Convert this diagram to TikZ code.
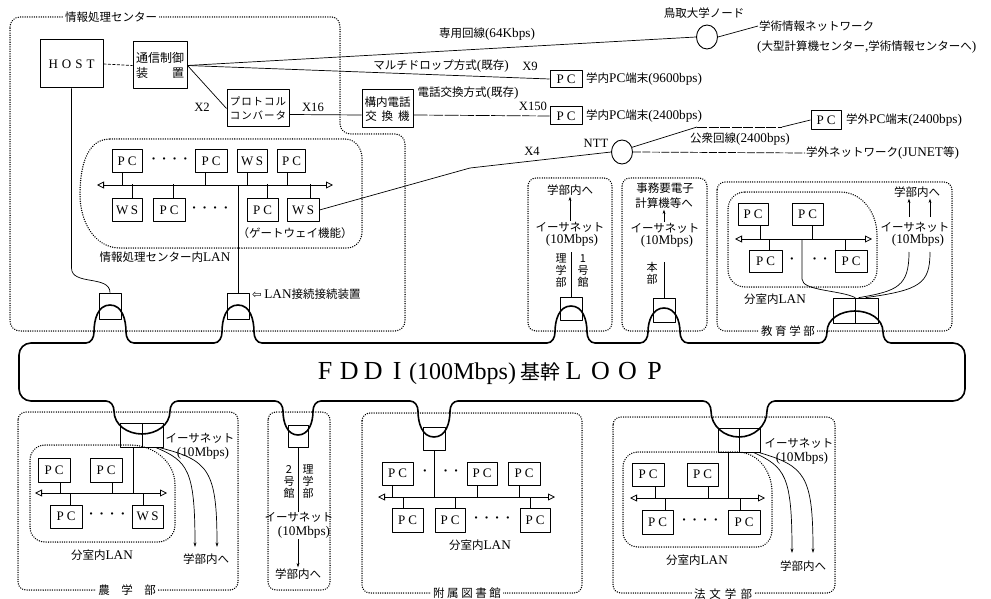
\documentclass[tikz,border=0pt]{standalone}
\usepackage{fontspec}
\setmainfont{Noto Sans CJK JP}
\newfontfamily\jp{Noto Sans CJK JP}
\newfontfamily\rmlat[Scale=1.15]{Liberation Serif}
\newfontfamily\dvs{DejaVu Sans}
\usetikzlibrary{arrows.meta,shapes.geometric}
\newcommand\PC{P\hspace{3pt}C}
\newcommand\WS{W\hspace{2.5pt}S}
\newcommand\DotsF{{\rmlat\bfseries ·\hspace{6pt}·\hspace{6pt}·\hspace{6pt}·}}
\begin{document}
\begin{tikzpicture}[x=1pt,y=-1pt,line join=round,
  every node/.style={inner sep=1pt},
  lbl/.style={font=\fontsize{11.5}{13}\selectfont},
  xlbl/.style={font=\rmlat\fontsize{11}{12}\selectfont},
  vlbl/.style={font=\fontsize{11}{12}\selectfont, align=center, inner sep=0pt},
  pcbox/.style={draw, line width=1pt, fill=white, inner sep=0pt, minimum width=31pt, minimum height=23pt, font=\rmlat\fontsize{11.3}{12}\selectfont},
  devbox/.style={draw, line width=0.7pt, inner sep=0pt},
  dotbox/.style={line width=1.5pt, dash pattern=on 0.01pt off 2.3pt, line cap=round},
  wire/.style={line width=0.7pt},
  loopline/.style={line width=1.6pt},
  bus/.style={line width=0.8pt, {Triangle[open,length=7pt,width=7pt]}-{Triangle[open,length=7pt,width=7pt]}},
  eth/.style={line width=0.7pt, -{Stealth[length=4.5pt,width=2.8pt]}},
  boxlbl/.style={fill=white, inner sep=2pt, font=\fontsize{11.5}{13}\selectfont},
  dotsn/.style={inner sep=0pt, font=\fontsize{12}{12}\selectfont},
]
\useasboundingbox (0,0) rectangle (991,599);

% ================= FDDI loop =================
\draw[loopline]
  (19,355) to[out=90,in=180] (31,343)
  -- (86,343) to[out=0,in=-90] (94,332) to[out=90,in=180] (110,305) to[out=0,in=90] (126,332) to[out=-90,in=180] (134,343)
  -- (214,343) to[out=0,in=-90] (222,332) to[out=90,in=180] (238,305) to[out=0,in=90] (254,332) to[out=-90,in=180] (262,343)
  -- (547,343) to[out=0,in=-90] (555,332) to[out=90,in=180] (571,306) to[out=0,in=90] (587,332) to[out=-90,in=180] (595,343)
  -- (640,343) to[out=0,in=-90] (648,332) to[out=90,in=180] (664,308) to[out=0,in=90] (680,332) to[out=-90,in=180] (688,343)
  -- (819,343) to[out=0,in=-90] (827,332) to[out=90,in=180] (855,311) to[out=0,in=90] (883,332) to[out=-90,in=180] (891,343)
  -- (953,343) to[out=0,in=90] (965,355) -- (965,389) to[out=-90,in=0] (953,401)
  -- (775,401) to[out=180,in=90] (767,411) to[out=-90,in=0] (739,437) to[out=180,in=-90] (711,411) to[out=90,in=0] (703,401)
  -- (458,401) to[out=180,in=90] (450,411) to[out=-90,in=0] (434,437) to[out=180,in=-90] (418,411) to[out=90,in=0] (410,401)
  -- (321,401) to[out=180,in=90] (313,411) to[out=-90,in=0] (298,435) to[out=180,in=-90] (283,411) to[out=90,in=0] (275,401)
  -- (178,401) to[out=180,in=90] (170,411) to[out=-90,in=0] (142,434) to[out=180,in=-90] (114,411) to[out=90,in=0] (106,401)
  -- (31,401) to[out=180,in=-90] (19,389) -- cycle;
\node[anchor=west, inner sep=0pt, font=\rmlat\fontsize{22.6}{24}\selectfont] (fddi) at (313,373)
  {\makebox[24pt]{F}\makebox[24pt]{D}\makebox[24pt]{D}\makebox[24pt]{I}{\fontsize{20.9}{22}\selectfont(100Mbps)}\kern4pt{\jp\fontsize{20}{20}\selectfont 基幹}\makebox[27pt]{L}\makebox[27pt]{O}\makebox[27pt]{O}\makebox[27pt]{P}};

% ================= 情報処理センター =================
\draw[dotbox] (10,27) to[out=90,in=180] (20,17) -- (332,17) to[out=0,in=90] (340,27) -- (340,124) to[out=-90,in=180] (351,134) -- (395,134) to[out=0,in=90] (405,144) -- (405,321) to[out=-90,in=0] (395,331) -- (20,331) to[out=180,in=-90] (10,321) -- cycle;
\node[boxlbl] (centerlbl) at (111,17) {情報処理センター};

\node[draw, line width=1pt, fill=white, minimum width=63pt, minimum height=48pt, inner sep=0pt, font=\rmlat\fontsize{11.3}{12}\selectfont] (host) at (71.5,64) {H\hspace{4pt}O\hspace{4pt}S\hspace{4pt}T};
\node[draw, line width=1pt, fill=white, minimum width=54pt, minimum height=47pt, align=center, inner sep=0pt, font=\fontsize{12}{15}\selectfont] (tsushin) at (160,65.5) {通信制御\\装\hspace{2em}置};
\node[draw, line width=1pt, fill=white, minimum width=62pt, minimum height=37pt, align=center, inner sep=0pt, font=\fontsize{10.5}{14}\selectfont] (proto) at (258,108.5) {プ\kern1pt ロ\kern1pt ト\kern1pt コ\kern1pt ル\\コ\kern1pt ン\kern1pt バ\kern1pt ー\kern1pt タ};
\node[draw, line width=1pt, fill=white, minimum width=51pt, minimum height=38pt, align=center, inner sep=0pt, font=\fontsize{11.5}{14.5}\selectfont] (kounai) at (387.5,109) {構内電話\\交\kern5pt 換\kern5pt 機};

\node[pcbox, minimum width=32pt, minimum height=17pt] (pcA) at (566,79) {\PC};
\node[pcbox, minimum width=32pt, minimum height=18pt] (pcB) at (566,116) {\PC};
\node[pcbox, minimum width=30pt, minimum height=19pt] (pcG) at (826,120) {\PC};
\node[draw, ellipse, line width=0.9pt, minimum width=21pt, minimum height=24pt, inner sep=0pt] (tottori) at (707,37) {};
\node[draw, ellipse, line width=0.9pt, minimum width=21pt, minimum height=24pt, inner sep=0pt] (ntt) at (622,152) {};

\draw[wire, dash pattern=on 3pt off 1.5pt] (host.east) -- (tsushin.west);
\draw[wire] (tsushin.east) -- (tottori.west);
\draw[wire] (tsushin.east) -- (pcA.west);
\draw[wire] (tsushin.east) -- (proto.west);
\draw[wire] ([yshift=-6pt]proto.east) -- ([yshift=-6pt]kounai.west);
\draw[wire, dash pattern=on 14pt off 1.5pt] ([yshift=-6pt]kounai.east) -- (pcB.west);

\node[lbl] (tottorilbl) at (704,13) {鳥取大学ノード};
\node[lbl, anchor=west] (gakujutsu) at (758,26) {学術情報ネットワーク};
\node[lbl, anchor=west] (oogata) at (756,47) {{\rmlat(}大型計算機センター{\rmlat,}学術情報センターへ{\rmlat)}};
\draw[wire] (tottori.east) -- (gakujutsu.west);

\node[lbl] (l64) at (487,34) {専用回線{\rmlat(64Kbps)}};
\node[lbl] (lmulti) at (441,66) {マルチドロップ方式{\rmlat(}既存{\rmlat)}};
\node[xlbl] (lx9) at (530,66) {X9};
\node[lbl] (ltel) at (468,93) {電話交換方式{\rmlat(}既存{\rmlat)}};
\node[xlbl] (lx150) at (533,106) {X150};
\node[xlbl] (lx2) at (202,107) {X2};
\node[xlbl] (lx16) at (313,107) {X16};
\node[lbl, anchor=west] (lpcA) at (585,79) {学内{\rmlat PC}端末{\rmlat(9600bps)}};
\node[lbl, anchor=west] (lpcB) at (585,116) {学内{\rmlat PC}端末{\rmlat(2400bps)}};
\node[lbl, anchor=west] (lpcG) at (845,120) {学外{\rmlat PC}端末{\rmlat(2400bps)}};

\node[xlbl] (nttlbl) at (596,143) {NTT};
\node[xlbl] (lx4) at (532,151) {X4};
\node[lbl] (lkoushu) at (740,139) {公衆回線{\rmlat(2400bps)}};
\node[lbl, anchor=west] (lgaibu) at (805,153) {学外ネットワーク{\rmlat(JUNET}等{\rmlat)}};
\coordinate (k1) at (697,127);
\coordinate (k2) at (782,127);
\draw[wire] (ntt.25) -- (k1);
\draw[wire, dash pattern=on 10pt off 1.5pt] (k1) -- (k2);
\draw[wire] (k2) -- (pcG.west);
\draw[wire, dash pattern=on 8pt off 1.5pt] (ntt.east) -- (lgaibu.west);

% ---- LAN in center ----
\draw[dotbox] (110,139) -- (345,139) to[out=0,in=90] (362,158) -- (362,232) to[out=-90,in=0] (347,248) -- (120,248) to[out=180,in=-90] (80,195) to[out=90,in=180] (110,139) -- cycle;
\node[pcbox, minimum width=30pt] (tA) at (127,161.5) {\PC};
\node[pcbox, minimum width=32pt] (tB) at (211,161.5) {\PC};
\node[pcbox, minimum width=30pt] (tC) at (252,161.5) {\WS};
\node[pcbox, minimum width=28pt] (tD) at (291.5,161.5) {\PC};
\node[pcbox, minimum width=30pt] (tE) at (127,210) {\WS};
\node[pcbox, minimum width=32pt] (tF) at (169,210) {\PC};
\node[pcbox, minimum width=31pt] (tG) at (262.5,210) {\PC};
\node[pcbox, minimum width=32pt] (tH) at (303,210) {\WS};
\node[dotsn] (tdots1) at (169.5,161) {\DotsF};
\node[dotsn] (tdots2) at (210,210) {\DotsF};
\coordinate (tbusL) at (97,185);
\coordinate (tbusR) at (333,185);
\draw[bus] (tbusL) -- (tbusR);
\draw[wire] ([xshift=-5pt]tA.south) -- ++(0,12);
\draw[wire] ([xshift=-6pt]tB.south) -- ++(0,12);
\draw[wire] ([xshift=-5pt]tC.south) -- ++(0,12);
\draw[wire] ([xshift=-4pt]tD.south) -- ++(0,12);
\draw[wire] ([xshift=5pt]tE.north) -- ++(0,-13.5);
\draw[wire] ([xshift=4pt]tF.north) -- ++(0,-13.5);
\draw[wire] ([xshift=5pt]tG.north) -- ++(0,-13.5);
\draw[wire] ([xshift=7pt]tH.north) -- ++(0,-13.5);
\node[lbl] (gwlbl) at (295,233) {（ゲートウェイ機能）};
\node[lbl] (lanlbl) at (165,257) {情報処理センター内{\rmlat LAN}};
\node[lbl, anchor=west] (lanconn) at (251,294) {{\dvs ⇦} {\rmlat LAN}接続接続装置};

\coordinate (x4a) at (470,168);
\draw[wire] (tH.east) -- (x4a) -- (ntt.west);

\node[devbox, minimum width=22pt, minimum height=26pt] (devH) at (110,306) {};
\node[devbox, minimum width=22pt, minimum height=26pt] (devL) at (238,306) {};
\coordinate (hk) at (71.5,268);
\draw[wire] (host.south) -- (hk) to[out=-90,in=90] (devH.north);
\draw[wire] (devL.north) -- (devL.north |- tbusL);

% ================= 理学部1号館 =================
\draw[dotbox, rounded corners=8pt] (528,178) rectangle (612,331);
\node[lbl] (r1a) at (570,190) {学部内へ};
\node[lbl] (r1eth) at (570,227) {イーサネット};
\node[lbl] (r1mb) at (572,240) {{\rmlat(10Mbps)}};
\draw[eth] (r1eth.north) -- (r1a.south);
\node[vlbl] (r1v1) at (561,271) {理\\学\\部};
\node[vlbl] (r1v2) at (583,271) {1\\号\\館};
\node[devbox, minimum width=22pt, minimum height=23pt] (devR1) at (571,308.5) {};
\draw[wire] (devR1.north) -- ++(0,-45);

% ================= 本部 =================
\draw[dotbox, rounded corners=8pt] (622,178) rectangle (707,331);
\node[lbl] (hb1) at (665,188) {事務要電子};
\node[lbl] (hb2) at (664,203) {計算機等へ};
\node[lbl] (hbeth) at (665,228) {イーサネット};
\node[lbl] (hbmb) at (667,241) {{\rmlat(10Mbps)}};
\node[vlbl] (hbv) at (652,273) {本\\部};
\node[devbox, minimum width=22pt, minimum height=24pt] (devHB) at (664,310) {};
\draw[eth] (devHB.north |- hbeth.north) -- (devHB.north |- hb2.south);
\draw[wire] (devHB.north) -- ++(0,-36);

% ================= 教育学部 =================
\draw[dotbox, rounded corners=8pt] (717,182) rectangle (952,331);
\node[boxlbl] (kyoikulbl) at (788,331) {教 育 学 部};
\draw[dotbox] (745,192) -- (840,192) to[out=0,in=90] (877,235) -- (877,270) to[out=-90,in=0] (860,287) -- (745,287) to[out=180,in=-90] (728,270) -- (728,209) to[out=90,in=180] (745,192) -- cycle;
\node[pcbox, minimum width=30pt, minimum height=22pt] (eA) at (753,214) {\PC};
\node[pcbox, minimum width=31pt, minimum height=22pt] (eB) at (807.5,214) {\PC};
\node[pcbox, minimum width=33pt, minimum height=22pt] (eC) at (765.5,261) {\PC};
\node[pcbox, minimum width=32pt, minimum height=22pt] (eD) at (851,261) {\PC};
\node[dotsn] (edot1) at (792,261) {{\rmlat\bfseries ·}};
\node[dotsn] (edot2) at (820,261) {{\rmlat\bfseries ·\hspace{6pt}·}};
\coordinate (ebL) at (735,239);
\coordinate (ebR) at (872,239);
\draw[bus] (ebL) -- (ebR);
\draw[wire] ([xshift=7pt]eA.south) -- ++(0,14);
\draw[wire] ([xshift=5pt]eB.south) -- ++(0,14);
\draw[wire] ([xshift=4pt]eC.north) -- ++(0,-11);
\draw[wire] ([xshift=-6pt]eD.north) -- ++(0,-11);
\node[devbox, minimum width=22pt, minimum height=25pt] (devEa) at (844,310.5) {};
\node[devbox, minimum width=23pt, minimum height=25pt] (devEb) at (866.5,310.5) {};
\coordinate (ev) at (802,239);
\draw[wire] (ev) -- ++(0,40) .. controls (802,291) and (840,290) .. (devEa.north east);
\coordinate (ee1) at (909,252);
\coordinate (ee2) at (930,252);
\draw[wire] ([xshift=4pt]devEb.north west) .. controls (898,291) and (909,286) .. (ee1);
\draw[wire] ([xshift=11pt]devEb.north west) .. controls (920,290) and (930,284) .. (ee2);
\node[lbl] (kyA) at (917,192) {学部内へ};
\node[lbl] (kyeth) at (915,227) {イーサネット};
\node[lbl] (kymb) at (918,240) {{\rmlat(10Mbps)}};
\coordinate (ea1) at (909,217);
\coordinate (ea2) at (930,217);
\draw[eth] (ea1) -- (ea1 |- kyA.south);
\draw[eth] (ea2) -- (ea2 |- kyA.south);
\node[lbl] (kylan) at (775,299) {分室内{\rmlat LAN}};

% ================= 農学部 =================
\draw[dotbox, rounded corners=8pt] (18,412) rectangle (238,590);
\node[boxlbl] (noulbl) at (127,590) {農　学　部};
\draw[dotbox] (45,445) -- (130,445) to[out=0,in=90] (175,485) -- (175,525) to[out=-90,in=0] (158,542) -- (45,542) to[out=180,in=-90] (30,527) -- (30,460) to[out=90,in=180] (45,445) -- cycle;
\node[devbox, minimum width=22pt, minimum height=24pt] (devNa) at (131,435) {};
\node[devbox, minimum width=21pt, minimum height=24pt] (devNb) at (152.5,435) {};
\node[pcbox, minimum width=32pt, minimum height=24pt] (nA) at (54,470) {\PC};
\node[pcbox, minimum width=32pt, minimum height=24pt] (nB) at (106,470) {\PC};
\node[pcbox, minimum width=32pt, minimum height=23pt] (nC) at (66,516.5) {\PC};
\node[pcbox, minimum width=31pt, minimum height=23pt] (nD) at (147.5,516.5) {\WS};
\node[dotsn] (ndots) at (107,516) {\DotsF};
\coordinate (nbL) at (35,493);
\coordinate (nbR) at (167,493);
\draw[bus] (nbL) -- (nbR);
\draw[wire] ([xshift=6pt]nA.south) -- ++(0,11);
\draw[wire] ([xshift=6pt]nB.south) -- ++(0,11);
\draw[wire] ([xshift=4pt]nC.north) -- ++(0,-12);
\draw[wire] ([xshift=-4.5pt]nD.north) -- ++(0,-12);
\draw[wire] ([xshift=2pt]devNa.south) -- ++(0,46);
\coordinate (ne1) at (195,547);
\coordinate (ne2) at (217,547);
\draw[eth] ([xshift=-8pt]devNb.south east) .. controls (188,461) and (195,470) .. (ne1);
\draw[eth] ([xshift=-5pt]devNb.south east) .. controls (209,460) and (217,470) .. (ne2);
\node[lbl] (neth) at (200,438) {イーサネット};
\node[lbl] (nmb) at (203,453) {{\rmlat(10Mbps)}};
\node[lbl] (nlan) at (102,555) {分室内{\rmlat LAN}};
\node[lbl] (nto) at (206,559) {学部内へ};

% ================= 理学部2号館 =================
\draw[dotbox, rounded corners=8pt] (268,412) rectangle (330,590);
\node[devbox, minimum width=20pt, minimum height=22pt] (devR2) at (298,436) {};
\draw[wire] (devR2.south) -- ++(0,65);
\node[vlbl] (r2v1) at (289,482) {2\\号\\館};
\node[vlbl] (r2v2) at (308,482) {理\\学\\部};
\node[lbl] (r2eth) at (299,517) {イーサネット};
\node[lbl] (r2mb) at (304,532) {{\rmlat(10Mbps)}};
\node[lbl] (r2a) at (298,574) {学部内へ};
\draw[eth] (devR2.south |- r2mb.south) -- (devR2.south |- r2a.north);

% ================= 附属図書館 =================
\draw[dotbox, rounded corners=8pt] (362,413) rectangle (582,593);
\node[boxlbl] (tosholbl) at (467,593) {附 属 図 書 館};
\node[devbox, minimum width=22pt, minimum height=23pt] (devT) at (434,438.5) {};
\node[pcbox, minimum width=31pt] (lA) at (397.5,473.5) {\PC};
\node[pcbox, minimum width=30pt] (lB) at (482,473.5) {\PC};
\node[pcbox, minimum width=32pt] (lC) at (524,473.5) {\PC};
\node[pcbox, minimum width=31pt, minimum height=24pt] (lD) at (407.5,520) {\PC};
\node[pcbox, minimum width=30pt, minimum height=24pt] (lE) at (450,520) {\PC};
\node[pcbox, minimum width=30pt, minimum height=24pt] (lF) at (535,520) {\PC};
\node[dotsn] (ldot1) at (425,473) {{\rmlat\bfseries ·}};
\node[dotsn] (ldot2) at (451,473) {{\rmlat\bfseries ·\hspace{6pt}·}};
\node[dotsn] (ldot3) at (492,520) {\DotsF};
\coordinate (lbL) at (378,497);
\coordinate (lbR) at (555,497);
\draw[bus] (lbL) -- (lbR);
\draw[wire] (devT.south) -- ++(0,47);
\draw[wire] ([xshift=-5.5pt]lA.south) -- ++(0,12);
\draw[wire] ([xshift=-5pt]lB.south) -- ++(0,12);
\draw[wire] ([xshift=-5pt]lC.south) -- ++(0,12);
\draw[wire] ([xshift=-4.5pt]lD.north) -- ++(0,-11);
\draw[wire] ([xshift=5pt]lE.north) -- ++(0,-11);
\draw[wire] ([xshift=-5pt]lF.north) -- ++(0,-11);
\node[lbl] (llan) at (480,545) {分室内{\rmlat LAN}};

% ================= 法文学部 =================
\draw[dotbox, rounded corners=8pt] (613,417) rectangle (835,593);
\node[boxlbl] (houbunlbl) at (723,594) {法\hspace{4pt}文\hspace{4pt}学\hspace{4pt}部};
\draw[dotbox] (638,452) -- (737,452) to[out=0,in=90] (772,492) -- (772,530) to[out=-90,in=0] (757,547) -- (638,547) to[out=180,in=-90] (623,532) -- (623,467) to[out=90,in=180] (638,452) -- cycle;
\node[devbox, minimum width=21pt, minimum height=24pt] (devBa) at (728.5,440) {};
\node[devbox, minimum width=21pt, minimum height=24pt] (devBb) at (749.5,440) {};
\node[pcbox, minimum width=32pt] (bA) at (648,474.5) {\PC};
\node[pcbox, minimum width=31pt] (bB) at (702.5,474.5) {\PC};
\node[pcbox, minimum width=31pt, minimum height=24pt] (bC) at (657.5,522) {\PC};
\node[pcbox, minimum width=32pt, minimum height=24pt] (bD) at (744,522) {\PC};
\node[dotsn] (bdots) at (700,522) {\DotsF};
\coordinate (bbL) at (630,498);
\coordinate (bbR) at (765,498);
\draw[bus] (bbL) -- (bbR);
\draw[wire] ([xshift=7pt]bA.south) -- ++(0,12);
\draw[wire] ([xshift=5.5pt]bB.south) -- ++(0,12);
\draw[wire] ([xshift=7.5pt]bC.north) -- ++(0,-12);
\draw[wire] ([xshift=-4pt]bD.north) -- ++(0,-12);
\draw[wire] (devBa.south) -- ++(0,46);
\coordinate (be1) at (792,553);
\coordinate (be2) at (813,553);
\draw[eth] ([xshift=-7pt]devBb.south east) .. controls (785,467) and (792,475) .. (be1);
\draw[eth] ([xshift=-2pt]devBb.south east) .. controls (805,466) and (813,475) .. (be2);
\node[lbl] (beth) at (799,443) {イーサネット};
\node[lbl] (bmb) at (802,458) {{\rmlat(10Mbps)}};
\node[lbl] (blan) at (697,560) {分室内{\rmlat LAN}};
\node[lbl] (bto) at (803,566) {学部内へ};
\end{tikzpicture}
\end{document}
